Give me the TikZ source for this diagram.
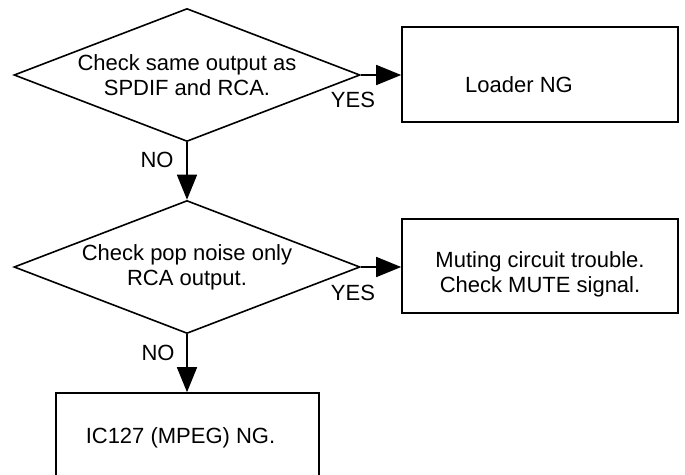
\documentclass[tikz,border=0pt]{standalone}
\usepackage{fontspec}
\setmainfont{Liberation Sans}
\usetikzlibrary{shapes.geometric,arrows.meta}
\begin{document}
\begin{tikzpicture}[x=1pt, y=-1pt, line width=1.6pt,
        every node/.style={font=\fontsize{22}{25}\selectfont, align=center},
        check/.style={diamond, draw, inner sep=0pt, shape aspect=2.6, minimum width=346pt, minimum height=133pt},
        result/.style={rectangle, draw, inner sep=0pt, minimum width=276pt},
        flow/.style={-{Triangle[length=25pt,width=20pt]}}]
            \clip (0,0) rectangle (685,474);

            \node[check] (same) at (187,75) {Check same output as\\SPDIF and RCA.};
            \node[check] (pop) at (187,267) {Check pop noise only\\RCA output.};
            \node[result, minimum height=95pt, label={[xshift=-21pt, yshift=-10pt]center:Loader NG}] (loader) at (540,74.5) {};
            \node[result, minimum height=94pt, label={[yshift=-8pt]center:Muting circuit trouble.\\Check MUTE signal.}] (mute) at (540,266) {};
            \node[result, minimum width=263pt, minimum height=90pt, label={[xshift=-7pt]center:IC127 (MPEG) NG.}] (mpeg) at (187.5,438) {};

            \draw[flow] (same.east) -- (same.east -| loader.west);
            \draw[flow] (same.south) -- (pop.north);
            \draw[flow] (pop.east) -- (pop.east -| mute.west);
            \draw[flow] (pop.south) -- (pop.south |- mpeg.north);

            \node (yes1) at (353,100) {YES};
            \node (no1) at (157,160) {NO};
            \node (yes2) at (353,293) {YES};
            \node (no2) at (158,353) {NO};
        \end{tikzpicture}
\end{document}
